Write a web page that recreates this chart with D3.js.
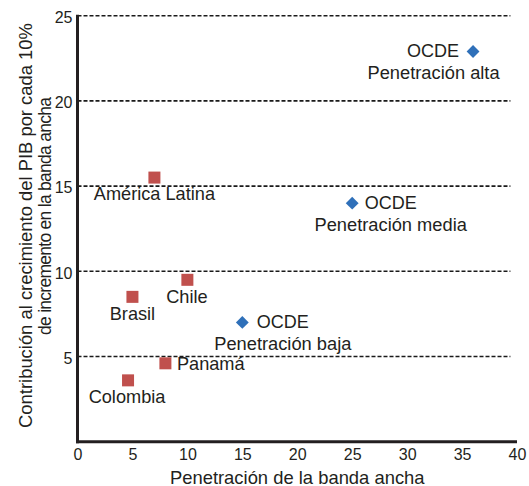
<!DOCTYPE html>
<html>
<head>
<meta charset="utf-8">
<script src="https://cdnjs.cloudflare.com/ajax/libs/d3/7.8.5/d3.min.js"></script>
<style>
  html, body { margin: 0; padding: 0; background: #ffffff; }
  svg { display: block; }
  text { font-family: "Liberation Sans", Arial, Helvetica, sans-serif; fill: #231f20; }
</style>
</head>
<body>
<svg id="chart" width="529" height="486"></svg>
<script>
// ---- Data ----
const latamNames = ["América Latina", "Chile", "Brasil", "Panamá", "Colombia"];
const latamX = [7, 10, 5, 8, 4.6];
const latamY = [15.5, 9.5, 8.5, 4.6, 3.6];

const ocdeNames = ["Penetración baja", "Penetración media", "Penetración alta"];
const ocdeX = [15, 25, 36];
const ocdeY = [7, 14, 22.9];

const xTicks = [0, 5, 10, 15, 20, 25, 30, 35, 40];
const yTicks = [5, 10, 15, 20, 25];

const xTitle = "Penetración de la banda ancha";
const yTitle1 = "Contribución al crecimiento del PIB por cada 10%";
const yTitle2 = "de incremento en la banda ancha";

// ---- Layout (label placement relative to marker) ----
const latamLabelLayout = [
  { anchor: "middle", dx: 0, dy: 22 },
  { anchor: "middle", dx: -0.5, dy: 23 },
  { anchor: "middle", dx: 0, dy: 23.5 },
  { anchor: "start", dx: 11.5, dy: 6.5 },
  { anchor: "middle", dx: -1, dy: 22.5 }
];
const ocdeLabelLayout = [
  { anchor1: "start", dx1: 14.5, dy1: 5.5, dx2: 40.5, dy2: 28 },
  { anchor1: "start", dx1: 12.5, dy1: 5.5, dx2: 38.5, dy2: 27.5 },
  { anchor1: "end", dx1: -14, dy1: 6, dx2: -39.5, dy2: 27.5 }
];

const svg = d3.select("#chart");

const x = d3.scaleLinear().domain([0, 40]).range([77.5, 517]);
const y = d3.scaleLinear().domain([0, 25]).range([441.7, 15.7]);

// Gridlines (dashed)
svg.append("g")
  .selectAll("line")
  .data(yTicks)
  .join("line")
  .attr("x1", x(0))
  .attr("x2", x(39.4))
  .attr("y1", d => y(d))
  .attr("y2", d => y(d))
  .attr("stroke", "#1a1a1a")
  .attr("stroke-width", 1.6)
  .attr("stroke-dasharray", "4,2");

// Y axis
const yAxis = d3.axisLeft(y).tickValues(yTicks).tickSize(0).tickPadding(5);
const gy = svg.append("g").attr("transform", `translate(${x(0)},0)`).call(yAxis);
gy.select(".domain").remove();
gy.selectAll("text")
  .style("font-size", "16px")
  .attr("fill", "#231f20")
  .attr("dy", "0.42em");

// X axis
const xAxis = d3.axisBottom(x).tickValues(xTicks).tickSize(0).tickPadding(7);
const gx = svg.append("g").attr("transform", `translate(0,${y(0)})`).call(xAxis);
gx.select(".domain").remove();
gx.selectAll("text")
  .style("font-size", "16px")
  .attr("fill", "#231f20")
  .attr("dy", "0.71em");

// Axis lines (thick)
svg.append("line")
  .attr("x1", x(0)).attr("x2", x(0))
  .attr("y1", y(25) - 1).attr("y2", y(0) + 1.5)
  .attr("stroke", "#231f20").attr("stroke-width", 3);
svg.append("line")
  .attr("x1", x(0) - 1.5).attr("x2", x(40))
  .attr("y1", y(0)).attr("y2", y(0))
  .attr("stroke", "#231f20").attr("stroke-width", 3);

// Axis titles
svg.append("text")
  .attr("x", (x(0) + x(40)) / 2)
  .attr("y", 483.5)
  .attr("text-anchor", "middle")
  .style("font-size", "18.4px")
  .text(xTitle);

svg.append("text")
  .attr("transform", "translate(31.5,225.5) rotate(-90)")
  .attr("text-anchor", "middle")
  .style("font-size", "18.4px")
  .text(yTitle1);
svg.append("text")
  .attr("transform", "translate(50.5,216) rotate(-90)")
  .attr("text-anchor", "middle")
  .attr("textLength", 238)
  .attr("lengthAdjust", "spacing")
  .style("font-size", "17.5px")
  .text(yTitle2);

// Latin America squares
const latam = latamNames.map((n, i) => ({ name: n, x: latamX[i], y: latamY[i], lay: latamLabelLayout[i] }));
const sq = 12;
svg.append("g")
  .selectAll("rect")
  .data(latam)
  .join("rect")
  .attr("x", d => x(d.x) - sq / 2)
  .attr("y", d => y(d.y) - sq / 2)
  .attr("width", sq)
  .attr("height", sq)
  .attr("fill", "#c0504d");

svg.append("g")
  .selectAll("text")
  .data(latam)
  .join("text")
  .attr("x", d => x(d.x) + d.lay.dx)
  .attr("y", d => y(d.y) + d.lay.dy)
  .attr("text-anchor", d => d.lay.anchor)
  .style("font-size", "18.2px")
  .text(d => d.name);

// OCDE diamonds
const ocde = ocdeNames.map((n, i) => ({ name: n, x: ocdeX[i], y: ocdeY[i], lay: ocdeLabelLayout[i] }));
const diamond = d3.symbol().type(d3.symbolDiamond2).size(105);
svg.append("g")
  .selectAll("path")
  .data(ocde)
  .join("path")
  .attr("transform", d => `translate(${x(d.x)},${y(d.y)})`)
  .attr("d", diamond)
  .attr("fill", "#2f70b9");

const lg = svg.append("g");
lg.selectAll("text.l1")
  .data(ocde)
  .join("text")
  .attr("class", "l1")
  .attr("x", d => x(d.x) + d.lay.dx1)
  .attr("y", d => y(d.y) + d.lay.dy1)
  .attr("text-anchor", d => d.lay.anchor1)
  .style("font-size", "18px")
  .text("OCDE");
lg.selectAll("text.l2")
  .data(ocde)
  .join("text")
  .attr("class", "l2")
  .attr("x", d => x(d.x) + d.lay.dx2)
  .attr("y", d => y(d.y) + d.lay.dy2)
  .attr("text-anchor", "middle")
  .style("font-size", "18.3px")
  .text(d => d.name);
</script>
</body>
</html>
